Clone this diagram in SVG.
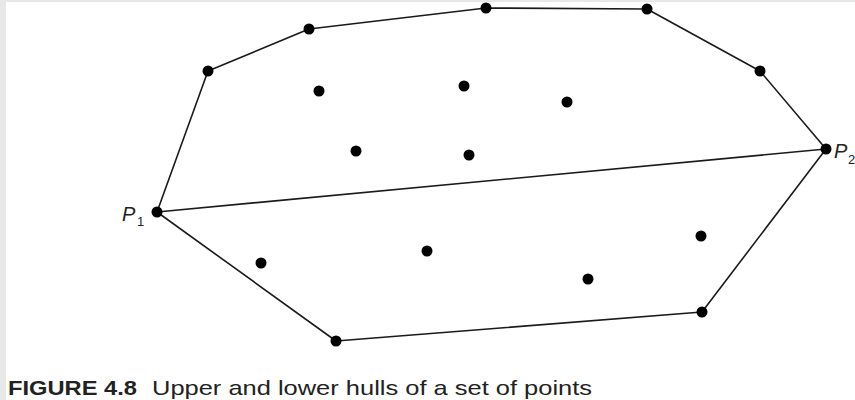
<svg xmlns="http://www.w3.org/2000/svg" width="855" height="400" viewBox="0 0 855 400">
<style>
.hull{fill:none;stroke:#1a1a1a;stroke-width:1.6;stroke-linejoin:round}
.pt{fill:#000}
.lbl{font-family:"Liberation Sans",Arial,sans-serif;font-size:20px;font-style:italic;fill:#222}
.sub{font-family:"Liberation Sans",Arial,sans-serif;font-size:13px;fill:#222}
.cap{font-family:"Liberation Sans",Arial,sans-serif;font-size:21px;fill:#222}
</style>
<rect x="0" y="0" width="855" height="400" fill="#e8e8e8"/>
<rect x="6" y="2" width="849" height="398" fill="#fff"/>
<g id="connectors">
<polyline class="hull" points="157,212 208,71 309,29 486,8 647,9 760,71 826,149"/>
<polyline class="hull" points="157,212 336,341 702,312 826,149"/>
<line class="hull" x1="157" y1="212" x2="826" y2="149"/>
</g>
<g id="P1"><circle class="pt" cx="157" cy="212" r="5.5"/><text class="lbl" x="122" y="221">P</text><text class="sub" x="137" y="226">1</text></g>
<g id="P2"><circle class="pt" cx="826" cy="149" r="5.5"/><text class="lbl" x="834" y="158">P</text><text class="sub" x="848" y="164">2</text></g>
<g id="h1"><circle class="pt" cx="208" cy="71" r="5.5"/></g>
<g id="h2"><circle class="pt" cx="309" cy="29" r="5.5"/></g>
<g id="h3"><circle class="pt" cx="486" cy="8" r="5.5"/></g>
<g id="h4"><circle class="pt" cx="647" cy="9" r="5.5"/></g>
<g id="h5"><circle class="pt" cx="760" cy="71" r="5.5"/></g>
<g id="l1"><circle class="pt" cx="336" cy="341" r="5.5"/></g>
<g id="l2"><circle class="pt" cx="702" cy="312" r="5.5"/></g>
<g id="i1"><circle class="pt" cx="319" cy="91" r="5.5"/></g>
<g id="i2"><circle class="pt" cx="464" cy="86" r="5.5"/></g>
<g id="i3"><circle class="pt" cx="567" cy="102" r="5.5"/></g>
<g id="i4"><circle class="pt" cx="356" cy="151" r="5.5"/></g>
<g id="i5"><circle class="pt" cx="469" cy="155" r="5.5"/></g>
<g id="i6"><circle class="pt" cx="261" cy="263" r="5.5"/></g>
<g id="i7"><circle class="pt" cx="427" cy="251" r="5.5"/></g>
<g id="i8"><circle class="pt" cx="588" cy="279" r="5.5"/></g>
<g id="i9"><circle class="pt" cx="701" cy="236" r="5.5"/></g>
<g id="caption">
<text class="cap" x="8" y="395" font-weight="bold" textLength="129" lengthAdjust="spacingAndGlyphs">FIGURE 4.8</text>
<text class="cap" x="152" y="395" textLength="440" lengthAdjust="spacingAndGlyphs">Upper and lower hulls of a set of points</text>
</g>
</svg>
